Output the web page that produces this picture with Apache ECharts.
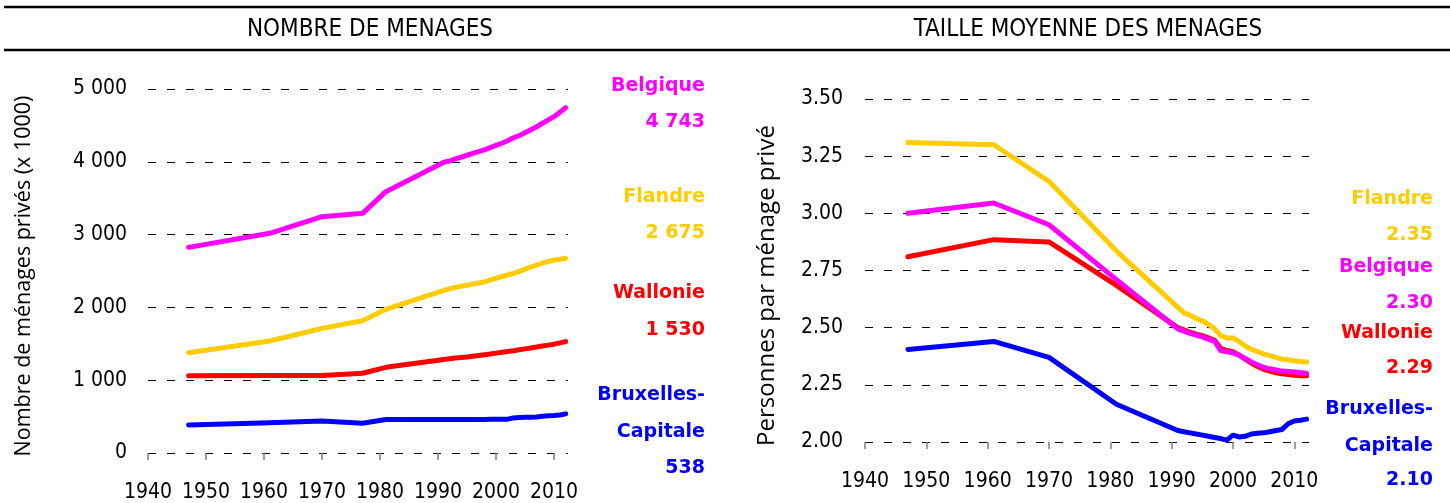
<!DOCTYPE html>
<html>
<head>
    <meta charset="utf-8">
    <title>Ménages</title>
    <script src="https://cdn.jsdelivr.net/npm/echarts@6/dist/echarts.min.js"></script>
</head>
<body style="margin:0;background:#fff;">
<div id="main" style="width: 1450px;height:503px;"></div>
<script type="text/javascript">
    // nombre de ménages (x 1000)
    const anneesNombre = [1947, 1961, 1970, 1977, 1981,
        1991, 1992, 1993, 1994, 1995, 1996, 1997, 1998, 1999, 2000, 2001,
        2002, 2003, 2004, 2005, 2006, 2007, 2008, 2009, 2010, 2011, 2012];
    const nbBelgique = [2825, 3018, 3246, 3292, 3590,
        3995, 4010, 4040, 4065, 4090, 4115, 4140, 4165, 4195, 4225, 4255,
        4290, 4330, 4360, 4400, 4440, 4480, 4530, 4575, 4620, 4680, 4743];
    const nbFlandre = [1378, 1538, 1712, 1817, 1974,
        2235, 2255, 2275, 2290, 2305, 2320, 2335, 2350, 2375, 2400, 2425,
        2445, 2468, 2495, 2525, 2555, 2582, 2610, 2630, 2650, 2662, 2675];
    const nbWallonie = [1062, 1065, 1065, 1095, 1177,
        1285, 1295, 1305, 1312, 1320, 1330, 1340, 1350, 1360, 1372, 1385,
        1395, 1405, 1418, 1430, 1442, 1455, 1470, 1482, 1495, 1512, 1530];
    const nbBruxelles = [385, 417, 440, 408, 460,
        460, 460, 460, 461, 461, 461, 461, 461, 462, 462, 463,
        465, 482, 488, 490, 492, 494, 505, 512, 515, 522, 538];

    // taille moyenne des ménages
    const anneesTaille = [1947, 1961, 1970, 1981,
        1991, 1992, 1993, 1994, 1995, 1996, 1997, 1998, 1999, 2000, 2001,
        2002, 2003, 2004, 2005, 2006, 2007, 2008, 2009, 2010, 2011, 2012];
    const tailleFlandre = [3.31, 3.30, 3.14, 2.835,
        2.59, 2.565, 2.555, 2.54, 2.53, 2.515, 2.495, 2.465, 2.455, 2.455, 2.44,
        2.42, 2.405, 2.395, 2.385, 2.378, 2.37, 2.362, 2.36, 2.355, 2.352, 2.35];
    const tailleBelgique = [3.00, 3.045, 2.95, 2.71,
        2.495, 2.485, 2.475, 2.468, 2.46, 2.45, 2.44, 2.40, 2.395, 2.39, 2.38,
        2.365, 2.35, 2.338, 2.327, 2.32, 2.315, 2.31, 2.308, 2.306, 2.304, 2.30];
    const tailleWallonie = [2.81, 2.885, 2.875, 2.685,
        2.50, 2.49, 2.48, 2.472, 2.465, 2.455, 2.445, 2.41, 2.40, 2.395, 2.38,
        2.362, 2.345, 2.33, 2.318, 2.31, 2.303, 2.298, 2.295, 2.292, 2.29, 2.29];
    const tailleBruxelles = [2.405, 2.44, 2.37, 2.165,
        2.05, 2.045, 2.04, 2.035, 2.03, 2.025, 2.02, 2.015, 2.008, 2.03, 2.022,
        2.025, 2.035, 2.038, 2.04, 2.045, 2.05, 2.055, 2.08, 2.092, 2.095, 2.10];

    const couleurs = {
        'Belgique': '#ff00ff',
        'Flandre': '#ffcc00',
        'Wallonie': '#ff0000',
        'Bruxelles-Capitale': '#0000ff'
    };

    const fontAxe = '"DejaVu Sans Condensed", "DejaVu Sans", sans-serif';
    const fontEtiq = '"DejaVu Sans", Verdana, sans-serif';
    const fontNom = '"Open Sans", sans-serif';

    function milliers(v) {
        return String(Math.round(v)).replace(/\B(?=(\d{3})+(?!\d))/g, ' ');
    }

    function paires(xs, ys) {
        return xs.map(function (x, i) { return [x, ys[i]]; });
    }

    function serie(nom, idx, xs, ys) {
        return {
            name: nom,
            type: 'line',
            xAxisIndex: idx,
            yAxisIndex: idx,
            data: paires(xs, ys),
            symbol: 'none',
            animation: false,
            lineStyle: {width: 5, color: couleurs[nom], cap: 'round', join: 'round'}
        };
    }

    const xAxe = function (idx) {
        return {
            type: 'value',
            gridIndex: idx,
            min: 1940,
            max: 2012.4,
            interval: 10,
            axisLine: {show: false},
            axisTick: {show: true, length: 7, lineStyle: {color: '#808080', width: 1.5}},
            splitLine: {show: false},
            axisLabel: {
                margin: 29, color: '#000', fontSize: 21, fontFamily: fontAxe,
                showMaxLabel: false,
                formatter: function (v) { return v <= 2010 ? String(v) : ''; }
            }
        };
    };

    const splitDash = {show: true, lineStyle: {color: '#000', width: 1, type: [8, 11]}};

    // étiquettes à droite de chaque graphique
    function etiquettes(xDroite, lignes) {
        return lignes.map(function (l) {
            return {
                type: 'text', x: xDroite, y: l[2],
                style: {
                    text: l[0], fill: couleurs[l[1]], align: 'right', verticalAlign: 'middle',
                    font: 'bold 19px ' + fontEtiq
                }
            };
        });
    }

    const last = function (a) { return a[a.length - 1]; };

    const etiqGauche = etiquettes(705, [
        ['Belgique', 'Belgique', 86],
        [milliers(last(nbBelgique)), 'Belgique', 122],
        ['Flandre', 'Flandre', 197],
        [milliers(last(nbFlandre)), 'Flandre', 233],
        ['Wallonie', 'Wallonie', 293],
        [milliers(last(nbWallonie)), 'Wallonie', 330],
        ['Bruxelles-', 'Bruxelles-Capitale', 395],
        ['Capitale', 'Bruxelles-Capitale', 432],
        [milliers(last(nbBruxelles)), 'Bruxelles-Capitale', 468]
    ]);
    const etiqDroite = etiquettes(1433, [
        ['Flandre', 'Flandre', 199],
        [last(tailleFlandre).toFixed(2), 'Flandre', 235],
        ['Belgique', 'Belgique', 267],
        [last(tailleBelgique).toFixed(2), 'Belgique', 303],
        ['Wallonie', 'Wallonie', 333],
        [last(tailleWallonie).toFixed(2), 'Wallonie', 368],
        ['Bruxelles-', 'Bruxelles-Capitale', 409],
        ['Capitale', 'Bruxelles-Capitale', 446],
        [last(tailleBruxelles).toFixed(2), 'Bruxelles-Capitale', 480]
    ]);

    const cadre = [
        {type: 'line', shape: {x1: 4, y1: 7, x2: 1450, y2: 7}, style: {stroke: '#000', lineWidth: 2.5}},
        {type: 'line', shape: {x1: 4, y1: 50, x2: 1450, y2: 50}, style: {stroke: '#000', lineWidth: 2.5}},
        {
            type: 'text', x: 370, y: 30,
            style: {text: 'NOMBRE DE MENAGES', align: 'center', verticalAlign: 'middle',
                fill: '#000', font: '24px ' + fontAxe}
        },
        {
            type: 'text', x: 1088, y: 30,
            style: {text: 'TAILLE MOYENNE DES MENAGES', align: 'center', verticalAlign: 'middle',
                fill: '#000', font: '24px ' + fontAxe}
        }
    ];

    const myChart = echarts.init(document.getElementById('main'));
    const option = {
        backgroundColor: '#fff',
        animation: false,
        grid: [
            {left: 148, top: 89, width: 420, height: 364},
            {left: 865, top: 99, width: 444, height: 343}
        ],
        xAxis: [xAxe(0), xAxe(1)],
        yAxis: [
            {
                type: 'value', gridIndex: 0, min: 0, max: 5000, interval: 1000,
                axisLine: {show: false}, axisTick: {show: false},
                splitLine: splitDash,
                axisLabel: {margin: 21, color: '#000', fontSize: 21, fontFamily: fontAxe, formatter: milliers},
                name: 'Nombre de ménages privés (x 1000)',
                nameLocation: 'middle', nameGap: 113,
                nameTextStyle: {color: '#000', fontSize: 21.5, fontFamily: fontNom, padding: [0, 10, 0, 0]}
            },
            {
                type: 'value', gridIndex: 1, min: 2, max: 3.5, interval: 0.25,
                axisLine: {show: false}, axisTick: {show: false},
                splitLine: splitDash,
                axisLabel: {
                    margin: 22, color: '#000', fontSize: 21, fontFamily: fontAxe,
                    formatter: function (v) { return v.toFixed(2); }
                },
                name: 'Personnes par ménage privé',
                nameLocation: 'middle', nameGap: 86,
                nameTextStyle: {color: '#000', fontSize: 24, fontFamily: fontNom, padding: [0, 30, 0, 0]}
            }
        ],
        series: [
            serie('Belgique', 0, anneesNombre, nbBelgique),
            serie('Flandre', 0, anneesNombre, nbFlandre),
            serie('Wallonie', 0, anneesNombre, nbWallonie),
            serie('Bruxelles-Capitale', 0, anneesNombre, nbBruxelles),
            serie('Flandre', 1, anneesTaille, tailleFlandre),
            serie('Wallonie', 1, anneesTaille, tailleWallonie),
            serie('Belgique', 1, anneesTaille, tailleBelgique),
            serie('Bruxelles-Capitale', 1, anneesTaille, tailleBruxelles)
        ],
        graphic: cadre.concat(etiqGauche, etiqDroite)
    };
    myChart.setOption(option);
</script>
</body>
</html>
